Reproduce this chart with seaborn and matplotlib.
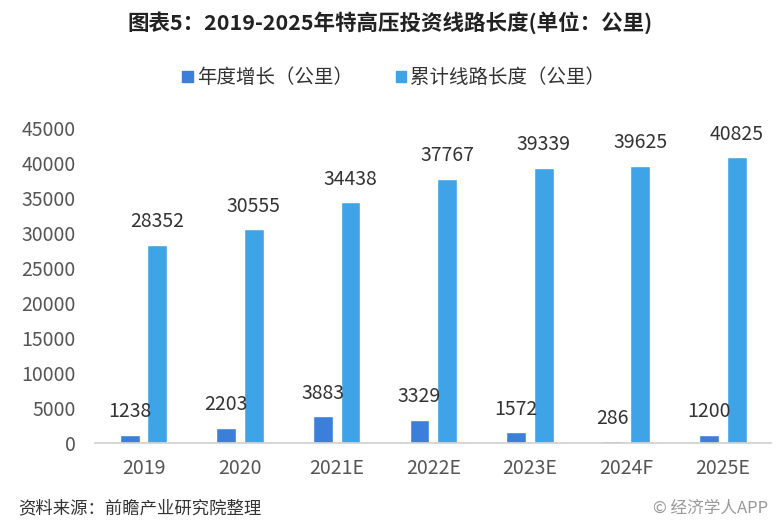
import matplotlib
matplotlib.use('Agg')
import matplotlib.pyplot as plt
import seaborn as sns
import pandas as pd

# ── Données ──────────────────────────────────────────────────────────
years = ['2019', '2020', '2021E', '2022E', '2023E', '2024F', '2025E']
growth = [1238, 2203, 3883, 3329, 1572, 286, 1200]
cumulative = [28352, 30555, 34438, 37767, 39339, 39625, 40825]
series_names = ['年度增长（公里）', '累计线路长度（公里）']
colors = ['#3b7fd9', '#3fa3e8']

df = pd.DataFrame({
    'year': years * 2,
    'value': growth + cumulative,
    'series': [series_names[0]] * len(years) + [series_names[1]] * len(years),
})

sns.set_theme(style='white')
plt.rcParams['font.family'] = ['Noto Sans CJK SC', 'DejaVu Sans']

fig = plt.figure(figsize=(7.8, 5.27), dpi=100)
ax = fig.add_axes([0.122, 0.159, 0.867, 0.598])

sns.barplot(data=df, x='year', y='value', hue='series', palette=colors,
            width=0.57, gap=0.28, ax=ax, legend=False, saturation=1)

for cont in ax.containers:
    ax.bar_label(cont, labels=[f'{int(v)}' for v in cont.datavalues],
                 padding=9, fontsize=14, color='#333333')

ax.set_ylim(0, 45000)
ax.set_xlim(-0.5, 6.5)
ax.set_yticks(range(0, 45001, 5000))
ax.set_xlabel('')
ax.set_ylabel('')
ax.tick_params(axis='both', labelsize=14, colors='#555555', length=0)
ax.tick_params(axis='y', pad=14)
ax.tick_params(axis='x', pad=11)
for s in ['top', 'right', 'left']:
    ax.spines[s].set_visible(False)
ax.spines['bottom'].set_color('#d0d0d0')

# Légende
handles = [plt.Rectangle((0, 0), 1, 1, color=c) for c in colors]
fig.legend(handles, series_names, loc='center', bbox_to_anchor=(0.505, 0.852),
           ncol=2, frameon=False, fontsize=14, handlelength=0.55, handleheight=0.55,
           handletextpad=0.2, columnspacing=2.2, labelcolor='#333333')

fig.text(0.5, 0.957, '图表5：2019-2025年特高压投资线路长度(单位：公里)',
         ha='center', va='center', fontsize=15.5, fontweight='bold', color='#222222')
fig.text(0.023, 0.036, '资料来源：前瞻产业研究院整理', ha='left', va='center',
         fontsize=12.5, color='#333333')
fig.text(0.985, 0.036, '© 经济学人APP', ha='right', va='center',
         fontsize=12, color='#999999')

fig.savefig('out.png', dpi=100)
